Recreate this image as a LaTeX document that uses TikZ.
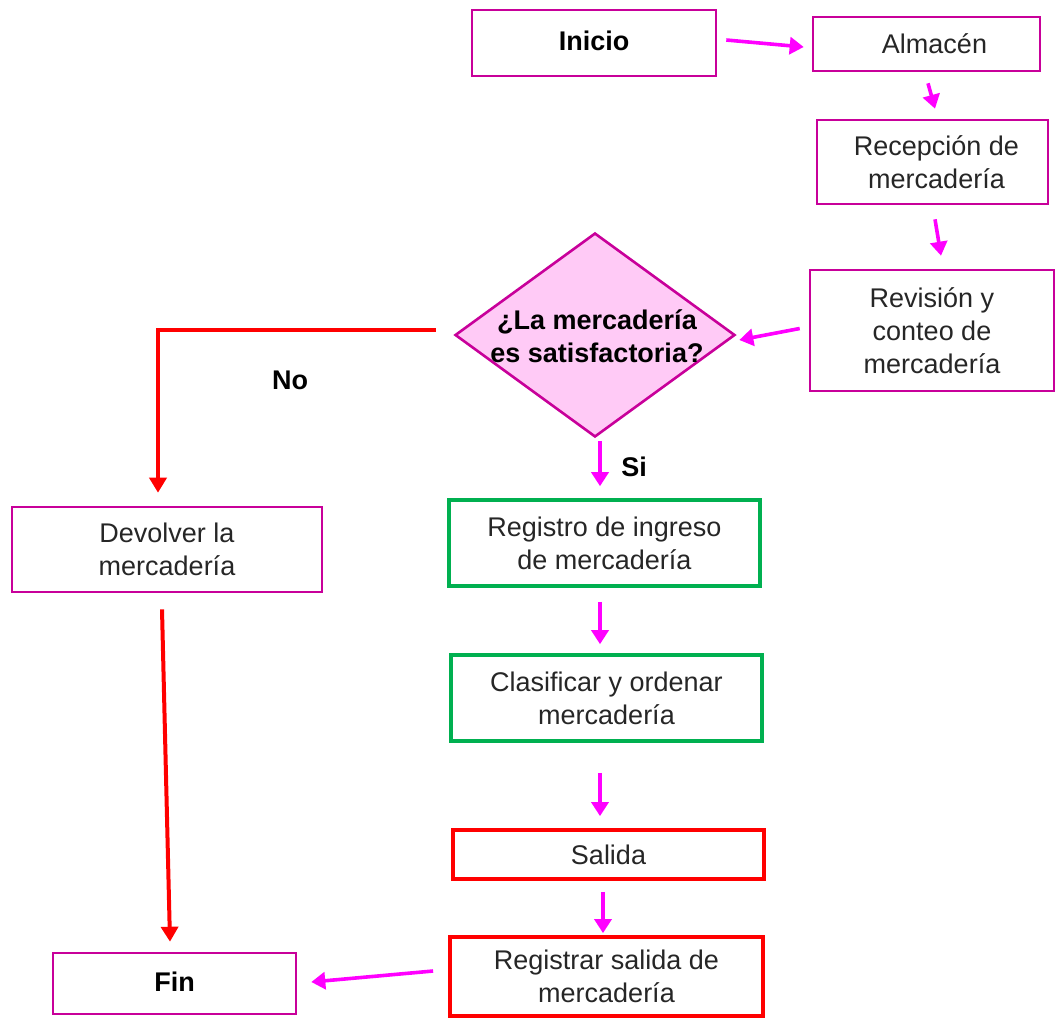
\documentclass[tikz,border=0pt]{standalone}
\usepackage{fontspec}
\setmainfont{Liberation Sans}
\usetikzlibrary{shapes.geometric,arrows.meta,calc}
\definecolor{boxmag}{HTML}{C8009A}
\definecolor{arrmag}{HTML}{FF00FF}
\definecolor{diafill}{HTML}{FFCAF6}
\definecolor{grn}{HTML}{00B050}
\definecolor{rd}{HTML}{FF0000}
\begin{document}
\begin{tikzpicture}[x=1pt,y=-1pt,
  txt/.style={font=\fontsize{27}{33}\selectfont, text=black!85, align=center},
  mbox/.style={txt, draw=boxmag, line width=2.6pt, rectangle, inner sep=0pt},
  gbox/.style={txt, draw=grn, line width=3.6pt, rectangle, inner sep=0pt},
  rbox/.style={txt, draw=rd, line width=3.8pt, rectangle, inner sep=0pt},
  marr/.style={draw=arrmag, line width=3.6pt, -{Triangle[length=14pt,width=17pt]}},
  rarr/.style={draw=rd, line width=4pt, -{Triangle[length=15pt,width=17pt]}},
  lbl/.style={font=\bfseries\fontsize{27}{33}\selectfont, text=black}]
\useasboundingbox (0,0) rectangle (1055,1021);
\node[mbox, minimum width=244, minimum height=66, font=\bfseries\fontsize{27}{33}\selectfont, text=black] (ini) at (594,43) {\raisebox{4pt}{Inicio}};
\node[mbox, minimum width=227, minimum height=54] (alm) at (926.5,44) {\hspace*{16pt}Almacén};
\node[mbox, minimum width=231, minimum height=84] (rec) at (932.5,162) {\hspace*{8pt}Recepción de\\\hspace*{8pt}mercadería};
\node[mbox, minimum width=244, minimum height=121] (rev) at (932,330.5) {Revisión y\\conteo de\\mercadería};
\node[diamond, draw=boxmag, fill=diafill, line width=2.6pt, minimum width=280, minimum height=204, inner sep=0pt] (dia) at (595,335) {};
\node[lbl, align=center] (diat) at (597,336) {¿La mercadería\\es satisfactoria?};
\node[mbox, minimum width=310, minimum height=85] (dev) at (167,549.5) {\raisebox{-3pt}{Devolver la}\\\raisebox{-3pt}{mercadería}};
\node[gbox, minimum width=311, minimum height=86] (reg) at (604.5,543) {Registro de ingreso\\de mercadería};
\node[gbox, minimum width=311, minimum height=86] (cla) at (606.5,698) {Clasificar y ordenar\\mercadería};
\node[rbox, minimum width=311, minimum height=49] (sal) at (608.5,854.5) {Salida};
\node[rbox, minimum width=313, minimum height=79] (rsal) at (606.5,976.5) {Registrar salida de\\mercadería};
\node[mbox, minimum width=243, minimum height=61, font=\bfseries\fontsize{27}{33}\selectfont, text=black] (fin) at (174.5,983.5) {\raisebox{3pt}{Fin}};
\node[lbl] (no) at (290,380) {No};
\node[lbl] (si) at (634,467) {Si};
% magenta arrows
\draw[marr] ([shift={(9,-3)}]ini.east) -- ([shift={(-8,3)}]alm.west);
\draw[marr] ([shift={(1.5,11)}]alm.south) -- ([shift={(2.5,-10)}]rec.north);
\draw[marr] ([shift={(2.5,14)}]rec.south) -- ([shift={(9,-13)}]rev.north);
\draw[marr] ([shift={(-9,-2)}]rev.west) -- ([shift={(3,5)}]dia.east);
\draw[marr] ([shift={(5,3)}]dia.south) -- ([shift={(-4.5,-12)}]reg.north);
\draw[marr] ([shift={(-4.5,14)}]reg.south) -- ([shift={(-6.5,-9)}]cla.north);
\draw[marr] ([shift={(-6.5,30)}]cla.south) -- ([shift={(-8.5,-12)}]sal.north);
\draw[marr] ([shift={(-5.5,11)}]sal.south) -- ([shift={(-3.5,-2)}]rsal.north);
\draw[marr] ([shift={(-15,-5.5)}]rsal.west) -- ([shift={(14,-1.5)}]fin.east);
% red arrows
\draw[rarr] ([shift={(-18,-5)}]dia.west) -| ([shift={(-9,-13)}]dev.north);
\draw[rarr] ([shift={(-5,16)}]dev.south) -- ([shift={(-4.5,-10)}]fin.north);
\end{tikzpicture}
\end{document}
